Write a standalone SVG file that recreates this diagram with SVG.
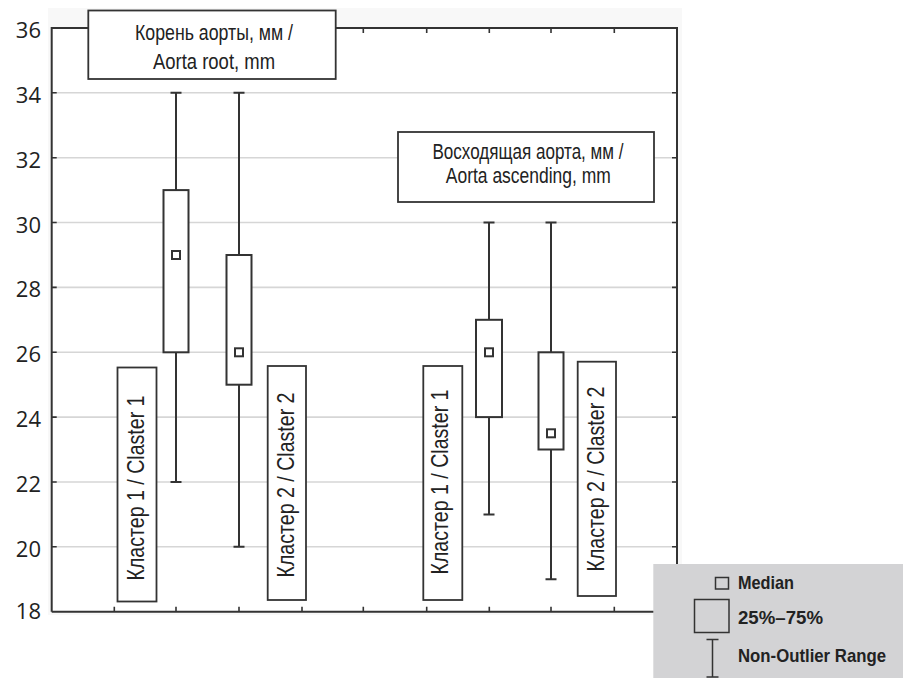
<svg xmlns="http://www.w3.org/2000/svg" width="903" height="678" viewBox="0 0 903 678">
<style>
.bg{fill:#f8f8f8}
.plot{fill:#ffffff}
.grid{stroke:#d6d6d6;stroke-width:1.6;fill:none}
.axis{stroke:#333333;stroke-width:2;fill:none}
.tick{stroke:#333333;stroke-width:1.6;fill:none}
.box{fill:#ffffff;stroke:#333333;stroke-width:2}
.wh{stroke:#333333;stroke-width:2;fill:none}
.lbl{fill:#ffffff;stroke:#333333;stroke-width:1.8}
.num{font-family:"Open Sans","Noto Sans",sans-serif;font-size:22px;fill:#222222;text-anchor:end}
.ttl{font-family:"Liberation Sans",Arial,sans-serif;font-size:22px;fill:#222222;text-anchor:middle}
.cl{font-family:"Liberation Sans",Arial,sans-serif;font-size:24px;fill:#222222;text-anchor:middle}
.leg{font-family:"Liberation Sans",Arial,sans-serif;font-size:18.5px;font-weight:bold;fill:#222222}
.legbg{fill:#d3d3d5}
.legln{stroke:#333333;stroke-width:1.5;fill:none}
</style>
<rect class="bg" x="48" y="8" width="634" height="607"/>
<rect class="plot" x="51.7" y="28" width="625.3" height="583.7"/>
<g id="grid">
<line class="grid" x1="53" y1="92.8" x2="676" y2="92.8"/>
<line class="grid" x1="53" y1="157.7" x2="676" y2="157.7"/>
<line class="grid" x1="53" y1="222.5" x2="676" y2="222.5"/>
<line class="grid" x1="53" y1="287.4" x2="676" y2="287.4"/>
<line class="grid" x1="53" y1="352.3" x2="676" y2="352.3"/>
<line class="grid" x1="53" y1="417.1" x2="676" y2="417.1"/>
<line class="grid" x1="53" y1="482" x2="676" y2="482"/>
<line class="grid" x1="53" y1="546.8" x2="676" y2="546.8"/>
</g>
<g id="axes">
<path class="axis" d="M51.7 611.7 V28 H677 V611.7 H51.7"/>
<path class="tick" d="M51.7 92.8h5M51.7 157.7h5M51.7 222.5h5M51.7 287.4h5M51.7 352.3h5M51.7 417.1h5M51.7 482h5M51.7 546.8h5"/>
<path class="tick" d="M677 92.8h-5M677 157.7h-5M677 222.5h-5M677 287.4h-5M677 352.3h-5M677 417.1h-5M677 482h-5M677 546.8h-5"/>
<path class="tick" d="M114.3 28v5M176 28v5M239 28v5M302 28v5M363.3 28v5M426.7 28v5M489.3 28v5M551 28v5M614.3 28v5"/>
<path class="tick" d="M114.3 611.7v-5M176 611.7v-5M239 611.7v-5M302 611.7v-5M363.3 611.7v-5M426.7 611.7v-5M489.3 611.7v-5M551 611.7v-5M614.3 611.7v-5"/>
</g>
<g id="ylabels">
<text class="num" x="41" y="38">36</text>
<text class="num" x="41" y="102.8">34</text>
<text class="num" x="41" y="167.7">32</text>
<text class="num" x="41" y="232.5">30</text>
<text class="num" x="41" y="297.4">28</text>
<text class="num" x="41" y="362.3">26</text>
<text class="num" x="41" y="427.1">24</text>
<text class="num" x="41" y="492">22</text>
<text class="num" x="41" y="556.8">20</text>
<text class="num" x="41" y="618.5">18</text>
</g>
<g id="connectors">
<path class="wh" d="M170.5 92.8h11M176 92.8V190.1M176 352.3V482M170.5 482h11"/>
<path class="wh" d="M233.5 92.8h11M239 92.8V255M239 384.7V546.8M233.5 546.8h11"/>
<path class="wh" d="M483.5 222.5h11M489 222.5V319.8M489 417.1V514.4M483.5 514.4h11"/>
<path class="wh" d="M545.5 222.5h11M551 222.5V352.3M551 449.5V579.3M545.5 579.3h11"/>
</g>
<g id="box-root-c1">
<rect class="box" x="163.5" y="190.1" width="25" height="162.2"/>
<rect class="box" x="172" y="251" width="8" height="8" stroke-width="1.8"/>
</g>
<g id="box-root-c2">
<rect class="box" x="226.5" y="255" width="25" height="129.7"/>
<rect class="box" x="235" y="348.3" width="8" height="8" stroke-width="1.8"/>
</g>
<g id="box-asc-c1">
<rect class="box" x="476" y="319.8" width="26" height="97.3"/>
<rect class="box" x="485" y="348.3" width="8" height="8" stroke-width="1.8"/>
</g>
<g id="box-asc-c2">
<rect class="box" x="538.5" y="352.3" width="25" height="97.2"/>
<rect class="box" x="547" y="429.3" width="8" height="8" stroke-width="1.8"/>
</g>
<g id="title-root">
<rect class="lbl" x="88.3" y="10.5" width="247.4" height="68.5"/>
<text class="ttl" x="214" y="40" textLength="158" lengthAdjust="spacingAndGlyphs">Корень аорты, мм /</text>
<text class="ttl" x="214" y="69" textLength="122" lengthAdjust="spacingAndGlyphs">Aorta root, mm</text>
</g>
<g id="title-asc">
<rect class="lbl" x="398" y="132" width="256" height="70"/>
<text class="ttl" x="528" y="158.7" textLength="191" lengthAdjust="spacingAndGlyphs">Восходящая аорта, мм /</text>
<text class="ttl" x="528.3" y="183" textLength="165" lengthAdjust="spacingAndGlyphs">Aorta ascending, mm</text>
</g>
<g id="label-root-c1">
<rect class="lbl" x="117.5" y="367.5" width="39" height="234"/>
<text class="cl" transform="translate(143.5 488) rotate(-90)" x="0" y="0" textLength="185" lengthAdjust="spacingAndGlyphs">Кластер 1 / Claster 1</text>
</g>
<g id="label-root-c2">
<rect class="lbl" x="267.7" y="366" width="38.3" height="234"/>
<text class="cl" transform="translate(294.3 485) rotate(-90)" x="0" y="0" textLength="185" lengthAdjust="spacingAndGlyphs">Кластер 2 / Claster 2</text>
</g>
<g id="label-asc-c1">
<rect class="lbl" x="423.3" y="366" width="39" height="234"/>
<text class="cl" transform="translate(447.7 482) rotate(-90)" x="0" y="0" textLength="185" lengthAdjust="spacingAndGlyphs">Кластер 1 / Claster 1</text>
</g>
<g id="label-asc-c2">
<rect class="lbl" x="577.7" y="361.7" width="38.3" height="234.3"/>
<text class="cl" transform="translate(604.3 479) rotate(-90)" x="0" y="0" textLength="185" lengthAdjust="spacingAndGlyphs">Кластер 2 / Claster 2</text>
</g>
<g id="legend">
<rect class="legbg" x="653.3" y="564" width="250" height="114"/>
<rect fill="none" stroke="#333333" stroke-width="1.5" x="715.5" y="577.5" width="13" height="11.5"/>
<text class="leg" x="738" y="588.5" textLength="56" lengthAdjust="spacingAndGlyphs">Median</text>
<rect fill="none" stroke="#333333" stroke-width="1.5" x="694.5" y="599.5" width="34.5" height="33"/>
<text class="leg" x="738" y="623.5" textLength="85" lengthAdjust="spacingAndGlyphs">25%–75%</text>
<path class="legln" d="M706.5 639.5h12M712.5 639.5V677M706.5 677h12"/>
<text class="leg" x="738" y="661.5" textLength="148" lengthAdjust="spacingAndGlyphs">Non-Outlier Range</text>
</g>
</svg>
